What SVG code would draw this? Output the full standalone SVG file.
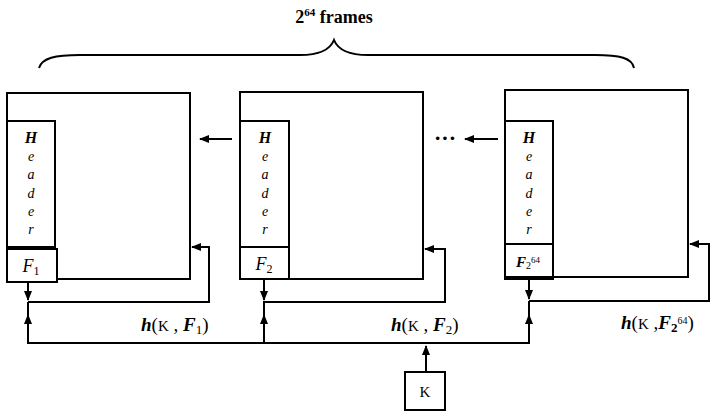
<svg xmlns="http://www.w3.org/2000/svg" width="712" height="420" viewBox="0 0 712 420">
<style>
.box{fill:none;stroke:#000;stroke-width:2}
.ln{fill:none;stroke:#000;stroke-width:2}
.t{font-family:"Liberation Serif",serif;fill:#000}
.hd{font-family:"Liberation Serif",serif;font-style:italic;font-size:14px;text-anchor:middle;fill:#000}
.hb{font-weight:bold;font-size:16px}
.lab{font-family:"Liberation Serif",serif;font-size:19px;fill:#000}
.k{font-weight:normal;font-style:normal;font-size:15px}
</style>
<defs>
<marker id="ah" markerUnits="userSpaceOnUse" markerWidth="10" markerHeight="8" refX="9" refY="4" orient="auto">
<path d="M0,0 L10,4 L0,8 z" fill="#000"/>
</marker>
</defs>
<rect width="712" height="420" fill="#fff"/>
<g id="title">
<text class="t" x="334" y="23" font-size="18" font-weight="bold" text-anchor="middle">2<tspan font-size="11" dy="-7">64</tspan><tspan dy="7"> frames</tspan></text>
<path class="ln" d="M39,68 C42,58 55,55 80,55 H300 C320,55 330,50 334,40 C338,50 348,55 368,55 H595 C620,55 632,58 634,68"/>
</g>
<g id="frame1">
<rect class="box" x="7" y="93" width="183" height="186"/>
<rect class="box" x="7" y="121" width="48" height="126"/>
<rect class="box" x="7" y="249" width="50" height="33" style="fill:#fff"/>
<text class="hd"><tspan class="hb" x="31" y="143">H</tspan><tspan x="31" y="161">e</tspan><tspan x="31" y="179">a</tspan><tspan x="31" y="198">d</tspan><tspan x="31" y="216">e</tspan><tspan x="31" y="234">r</tspan></text>
<text class="t" x="31" y="272" font-size="18" font-style="italic" text-anchor="middle">F<tspan font-size="12" font-style="normal" dy="3">1</tspan></text>
</g>
<g id="frame2">
<rect class="box" x="240" y="92" width="183" height="187"/>
<rect class="box" x="240" y="121" width="49" height="126"/>
<rect class="box" x="240" y="247" width="49" height="32"/>
<text class="hd"><tspan class="hb" x="265" y="143">H</tspan><tspan x="265" y="161">e</tspan><tspan x="265" y="179">a</tspan><tspan x="265" y="198">d</tspan><tspan x="265" y="216">e</tspan><tspan x="265" y="234">r</tspan></text>
<text class="t" x="264" y="270" font-size="18" font-style="italic" text-anchor="middle">F<tspan font-size="12" font-style="normal" dy="3">2</tspan></text>
</g>
<g id="frame3">
<rect class="box" x="505" y="90" width="183" height="187"/>
<rect class="box" x="505" y="121" width="48" height="123"/>
<rect class="box" x="505" y="244" width="48" height="35"/>
<text class="hd"><tspan class="hb" x="529" y="143">H</tspan><tspan x="529" y="161">e</tspan><tspan x="529" y="179">a</tspan><tspan x="529" y="198">d</tspan><tspan x="529" y="216">e</tspan><tspan x="529" y="234">r</tspan></text>
<text class="t" x="516" y="267" font-size="15" font-style="italic" font-weight="bold">F<tspan font-size="10" font-weight="normal" font-style="normal" dy="2">2</tspan><tspan font-size="9" font-weight="normal" font-style="normal" dy="-6">64</tspan></text>
</g>
<g id="keybox">
<rect class="box" x="405" y="372" width="40" height="38"/>
<text class="t" x="425" y="397" font-size="15" text-anchor="middle">K</text>
</g>
<g id="connectors">
<path class="ln" d="M232,139 H200" marker-end="url(#ah)"/>
<text class="t" x="445" y="145" font-size="22" font-weight="bold" text-anchor="middle">···</text>
<path class="ln" d="M498,139 H465" marker-end="url(#ah)"/>
<path class="ln" d="M28,302 H209 V247 H192" marker-end="url(#ah)"/>
<path class="ln" d="M263,302 H445 V249 H425" marker-end="url(#ah)"/>
<path class="ln" d="M529,301 H709 V244 H690" marker-end="url(#ah)"/>
<path class="ln" d="M28,282 V300" marker-end="url(#ah)"/>
<path class="ln" d="M264,279 V300" marker-end="url(#ah)"/>
<path class="ln" d="M529,279 V299" marker-end="url(#ah)"/>
<path class="ln" d="M28,343 V315" marker-end="url(#ah)"/>
<path class="ln" d="M28,318 V302"/>
<path class="ln" d="M264,343 V315" marker-end="url(#ah)"/>
<path class="ln" d="M264,318 V302"/>
<path class="ln" d="M529,343 V315" marker-end="url(#ah)"/>
<path class="ln" d="M529,318 V301"/>
<path class="ln" d="M27,343 H530"/>
<path class="ln" d="M426,372 V346" marker-end="url(#ah)"/>
</g>
<g id="labels">
<text class="lab" x="141" y="331"><tspan font-weight="bold" font-style="italic">h</tspan>(<tspan class="k">K</tspan> , <tspan font-weight="bold" font-style="italic">F</tspan><tspan font-size="13" dy="3">1</tspan><tspan dy="-3">)</tspan></text>
<text class="lab" x="391" y="331"><tspan font-weight="bold" font-style="italic">h</tspan>(<tspan class="k">K</tspan> , <tspan font-weight="bold" font-style="italic">F</tspan><tspan font-size="13" dy="3">2</tspan><tspan dy="-3">)</tspan></text>
<text class="lab" x="621" y="329"><tspan font-weight="bold" font-style="italic">h</tspan>(<tspan class="k">K</tspan> ,<tspan font-weight="bold" font-style="italic">F</tspan><tspan font-size="13" font-weight="bold" dy="3">2</tspan><tspan font-size="10" dy="-8">64</tspan><tspan dy="5">)</tspan></text>
</g>
</svg>
